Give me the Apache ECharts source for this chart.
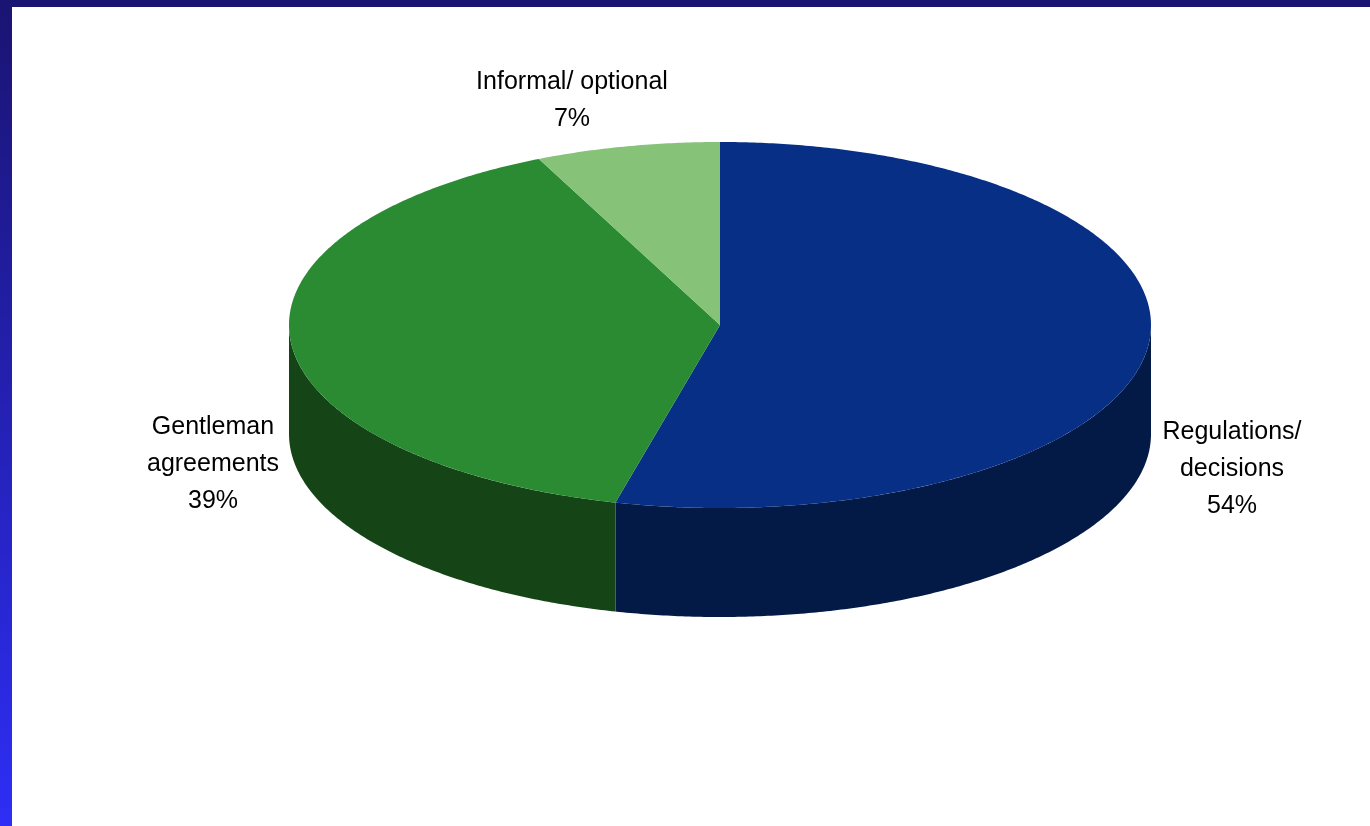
<!DOCTYPE html>
<html>
<head>
<meta charset="utf-8">
<style>html,body{margin:0;padding:0;background:#fff}#c{width:1370px;height:826px}</style>
<script src="https://cdn.jsdelivr.net/npm/echarts@6/dist/echarts.min.js"></script>
</head>
<body>
<div id="c"></div>
<script>
const categories = ['Regulations/\ndecisions', 'Gentleman\nagreements', 'Informal/ optional'];
const shares = [53.9, 39.2, 6.9];
const topColors = ['#072F86', '#2A8B33', '#86C278'];
const sideColors = ['#031A47', '#154516', '#4E7A46'];

// layout of the tilted disc
const CX = 720, CY = 325, RX = 431, RY = 183, DEPTH = 109;
const labelCentres = [[1232, 469.5], [213, 464.5], [572, 101]];

const total = shares.reduce((a, b) => a + b, 0);
const starts = [];
shares.reduce((acc, v, i) => { starts[i] = acc; return acc + v; }, 0);

function rim(deg, drop) {
  const t = deg * Math.PI / 180;
  return [CX + RX * Math.sin(t), CY - RY * Math.cos(t) + drop];
}
function arc(from, to, drop) {
  const pts = [];
  const n = Math.max(2, Math.ceil((to - from) * 2));
  for (let i = 0; i <= n; i++) pts.push(rim(from + (to - from) * i / n, drop));
  return pts;
}

function renderItem(params, api) {
  const i = params.dataIndex;
  const a0 = api.value(0) / total * 360;
  const a1 = a0 + api.value(1) / total * 360;
  const children = [];
  const s0 = Math.max(a0, 90), s1 = Math.min(a1, 270);
  if (s1 > s0) {
    children.push({
      type: 'polygon', z2: 1,
      shape: { points: arc(s0, s1, 0).concat(arc(s0, s1, DEPTH).reverse()) },
      style: { fill: sideColors[i] }
    });
  }
  children.push({
    type: 'polygon', z2: 2,
    shape: { points: [[CX, CY]].concat(arc(a0, a1, 0)) },
    style: { fill: topColors[i] }
  });
  children.push({
    type: 'text', z2: 3,
    style: {
      text: categories[i] + '\n' + Math.round(api.value(1)) + '%',
      x: labelCentres[i][0], y: labelCentres[i][1],
      align: 'center', verticalAlign: 'middle',
      fontFamily: '"Liberation Sans", Arial, sans-serif',
      fontSize: 25, lineHeight: 37, fill: '#000'
    }
  });
  return { type: 'group', children };
}

const chart = echarts.init(document.getElementById('c'), null, { renderer: 'canvas' });
chart.setOption({
  animation: false,
  backgroundColor: '#fff',
  graphic: [
    { type: 'rect', z: 10, shape: { x: 0, y: 0, width: 12, height: 826 },
      style: { fill: new echarts.graphic.LinearGradient(0, 0, 0, 1, [
        { offset: 0, color: '#1A1472' }, { offset: 1, color: '#2E2EF6' }]) } },
    { type: 'rect', z: 10, shape: { x: 0, y: 0, width: 1370, height: 7 },
      style: { fill: '#1A1472' } }
  ],
  series: [{
    type: 'custom',
    coordinateSystem: 'none',
    renderItem,
    data: shares.map((v, i) => [starts[i], v])
  }]
});
</script>
</body>
</html>
